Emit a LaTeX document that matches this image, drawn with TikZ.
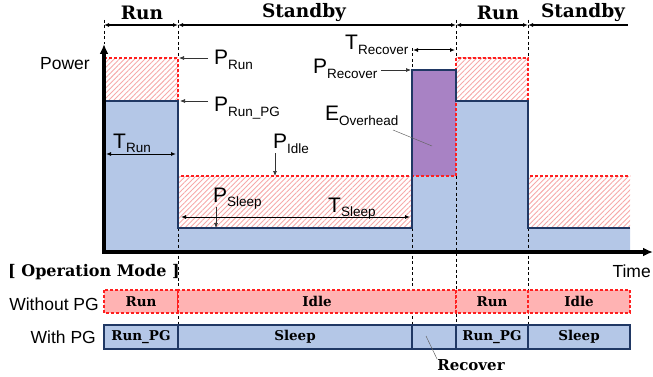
\documentclass[tikz,border=0pt]{standalone}
\usepackage{fontspec}
\setmainfont{Liberation Sans}
\newfontfamily\slab{DejaVu Serif}
\usetikzlibrary{arrows.meta,patterns.meta}
\definecolor{pgblue}{HTML}{B4C7E7}
\definecolor{navy}{HTML}{203864}
\definecolor{purp}{HTML}{A882C4}
\definecolor{hatchc}{HTML}{F6A9A9}
\definecolor{pinkbox}{HTML}{FFB3B3}
\definecolor{redd}{HTML}{FF1F1F}
\newcommand{\PLab}[2]{{\fontsize{21}{21}\selectfont #1}\raisebox{-4.5pt}{\fontsize{13.5}{13.5}\selectfont #2}}
\tikzset{
  hatchbox/.style={pattern={Lines[angle=45,distance=3.6pt,line width=0.9pt]},pattern color=hatchc},
  reddash/.style={draw=redd,line width=1.1pt,dash pattern=on 3pt off 2pt},
  navyline/.style={draw=navy,line width=2.4pt,line join=miter},
  guide/.style={draw=black,line width=0.7pt,dash pattern=on 3pt off 2.5pt},
  ptr/.style={draw=black!80,line width=0.7pt,-{Latex[length=5pt,width=4pt]}},
  dimarrow/.style={draw=black,line width=1pt,{Latex[length=5pt,width=4pt]}-{Latex[length=5pt,width=4pt]}},
  phase/.style={font=\slab\bfseries\fontsize{18.5}{18.5}\selectfont,inner sep=0pt},
  boxlab/.style={font=\slab\bfseries\fontsize{13.5}{13.5}\selectfont,inner sep=0pt},
  plain/.style={inner sep=0pt,anchor=base west},
  leader/.style={draw=black!60,line width=0.5pt},
  nopg/.style={fill=pinkbox,reddash},
  withpg/.style={fill=pgblue,draw=navy,line width=1.6pt},
}
\begin{document}
\begin{tikzpicture}[x=1pt,y=-1pt]
\useasboundingbox (0,0) rectangle (653,377);
% blue PG power area
\fill[pgblue] (104,252) -- (104,101) -- (178,101) -- (178,228) -- (412,228) -- (412,70) -- (456,70) -- (456,101) -- (528,101) -- (528,228) -- (630,228) -- (630,252) -- cycle;
\fill[purp] (412,70) rectangle (456,176);
% hatched areas (without PG)
\path[hatchbox] (104,58) rectangle (178,101);
\path[hatchbox] (178,176) rectangle (412,228);
\path[hatchbox] (456,58) rectangle (528,101);
\path[hatchbox] (528,176) rectangle (630,228);
\draw[reddash] (104,58) -- (178,58) -- (178,176) -- (456,176) -- (456,58) -- (528,58) -- (528,176) -- (630,176);
% guide lines
\draw[guide] (104,20) -- (104,44);
\draw[guide] (178,20) -- (178,58);
\draw[guide] (456,20) -- (456,58);
\draw[guide] (528,20) -- (528,58);
\draw[guide] (412,48) -- (412,70);
\draw[guide] (178,228) -- (178,325);
\draw[guide] (412,228) -- (412,325);
\draw[guide] (456,176) -- (456,325);
\draw[guide] (528,228) -- (528,325);
% PG power curve
\draw[navyline] (104,101) -- (178,101) -- (178,228) -- (412,228) -- (412,70) -- (456,70) -- (456,101) -- (528,101) -- (528,228) -- (630,228);
% axes
\coordinate (orig) at (104,252);
\coordinate (ytip) at (104,44);
\coordinate (xtip) at (653,252);
\draw[line width=3.2pt,-{Latex[length=10pt,width=9pt]}] (orig) -- (ytip);
\draw[line width=3.2pt,-{Latex[length=10pt,width=9pt]}] ([xshift=-1.6pt]orig) -- (xtip);
\node[inner sep=0pt,anchor=base east,font=\fontsize{17.5}{17.5}\selectfont] (power) at (90,70) {Power};
\node[inner sep=0pt,anchor=base east,font=\fontsize{17.5}{17.5}\selectfont] (time) at (651,277) {Time};
% phase arrows at top
\coordinate (t0) at (104,25);
\coordinate (t1) at (178,25);
\coordinate (t2) at (456,25);
\coordinate (t3) at (528,25);
\coordinate (t4) at (628,25);
\draw[dimarrow,line width=1.2pt] (t0) -- (t1);
\draw[dimarrow,line width=1.2pt] (t1) -- (t2);
\draw[dimarrow,line width=1.2pt] (t2) -- (t3);
\draw[line width=1.2pt,{Latex[length=5pt,width=4pt]}-] (t3) -- (t4);
\node[phase] (ph1) at (142,13) {Run};
\node[phase] (ph2) at (304,13) {Standby};
\node[phase] (ph3) at (498,13) {Run};
\node[phase] (ph4) at (583,13) {Standby};
% labels
\node[plain] (prun) at (214,65) {\PLab{P}{Run}};
\coordinate (prunA) at (208,58); \coordinate (prunB) at (179,58);
\draw[ptr] (prunA) -- (prunB);
\node[plain] (prunpg) at (214,112) {\PLab{P}{Run\_PG}};
\coordinate (prunpgA) at (208,101); \coordinate (prunpgB) at (180,101);
\draw[ptr] (prunpgA) -- (prunpgB);
\node[plain] (trun) at (113,148) {\PLab{T}{Run}};
\coordinate (trunA) at (106,154); \coordinate (trunB) at (176,154);
\draw[dimarrow] (trunA) -- (trunB);
\node[plain] (pidle) at (273,149) {\PLab{P}{Idle}};
\coordinate (pidleA) at (275,153); \coordinate (pidleB) at (275,176);
\draw[ptr] (pidleA) -- (pidleB);
\node[plain] (psleep) at (213,202) {\PLab{P}{Sleep}};
\coordinate (psleepA) at (216,207); \coordinate (psleepB) at (216,228);
\draw[ptr] (psleepA) -- (psleepB);
\node[plain] (tsleep) at (328,212) {\PLab{T}{Sleep}};
\coordinate (tsleepA) at (181,217); \coordinate (tsleepB) at (410,217);
\draw[dimarrow] (tsleepA) -- (tsleepB);
\node[plain] (eover) at (325,121) {\PLab{E}{Overhead}};
\coordinate (eoverA) at (393,130); \coordinate (eoverB) at (432,146);
\draw[leader] (eoverA) -- (eoverB);
\node[plain] (prec) at (313,74) {\PLab{P}{Recover}};
\coordinate (precA) at (381,70); \coordinate (precB) at (411,70);
\draw[ptr] (precA) -- (precB);
\node[plain] (trec) at (345,50) {\PLab{T}{Recover}};
\coordinate (trecA) at (413,50); \coordinate (trecB) at (455,50);
\draw[dimarrow] (trecA) -- (trecB);
% operation mode
\node[inner sep=0pt,anchor=west,font=\slab\bfseries\fontsize{16}{16}\selectfont] (opmode) at (8,272) {[ Operation Mode ]};
\node[inner sep=0pt,anchor=base east,font=\fontsize{17.5}{17.5}\selectfont] (wo) at (99,310) {Without PG};
\node[inner sep=0pt,anchor=base east,font=\fontsize{17.5}{17.5}\selectfont] (wi) at (96,343) {With PG};
\path[nopg] (104,290) rectangle (178,313);
\path[nopg] (178,290) rectangle (456,313);
\path[nopg] (456,290) rectangle (528,313);
\path[nopg] (528,290) rectangle (630,313);
\node[boxlab] (b1) at (141,301.5) {Run};
\node[boxlab] (b2) at (317,301.5) {Idle};
\node[boxlab] (b3) at (492,301.5) {Run};
\node[boxlab] (b4) at (579,301.5) {Idle};
\path[withpg] (104,325) rectangle (178,349);
\path[withpg] (178,325) rectangle (412,349);
\path[withpg] (412,325) rectangle (456,349);
\path[withpg] (456,325) rectangle (528,349);
\path[withpg] (528,325) rectangle (630,349);
\node[boxlab] (c1) at (141,337) {Run\_PG};
\node[boxlab] (c2) at (295,337) {Sleep};
\node[boxlab] (c3) at (492,337) {Run\_PG};
\node[boxlab] (c4) at (579,337) {Sleep};
\node[inner sep=0pt,font=\slab\bfseries\fontsize{15}{15}\selectfont] (recl) at (471,365) {Recover};
\coordinate (recA) at (426,336);
\draw[leader] (recA) -- (recl.north west);
\end{tikzpicture}
\end{document}
